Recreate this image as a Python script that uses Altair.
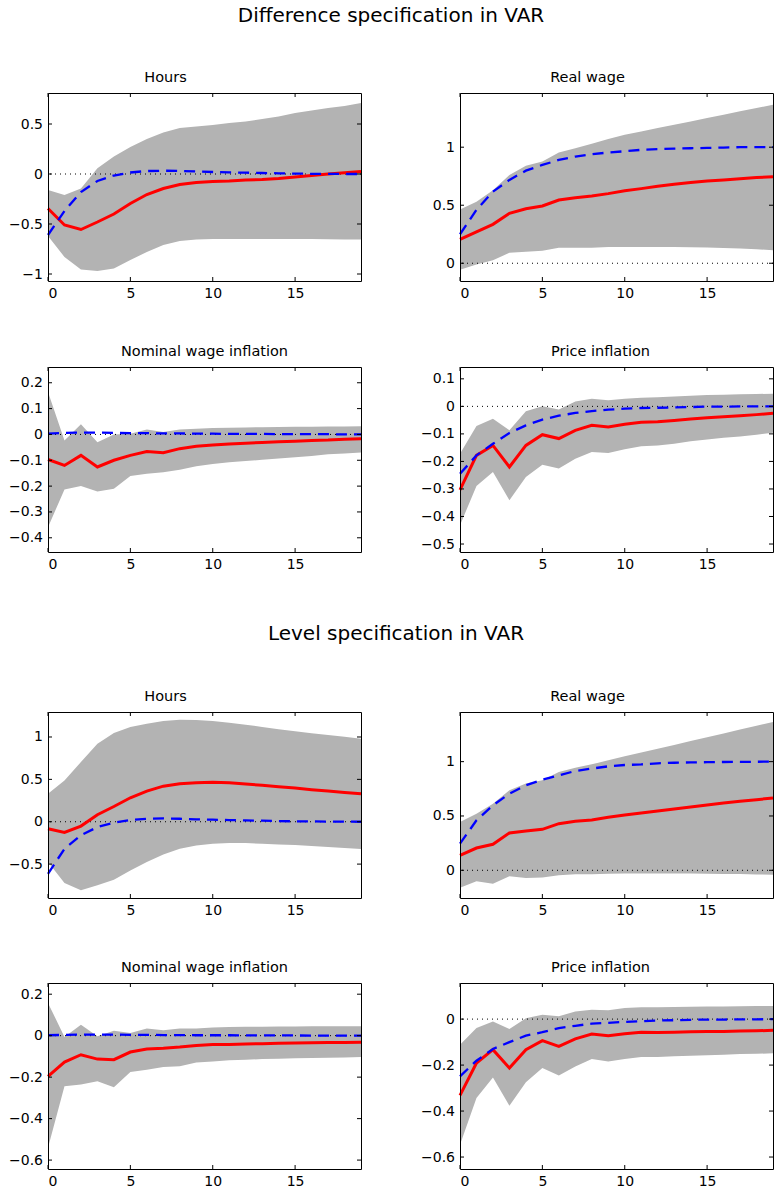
import altair as alt
import pandas as pd

HORIZON = list(range(20))
X_TICKS = [0, 5, 10, 15]

SECTION_TITLES = ["Difference specification in VAR", "Level specification in VAR"]
PANEL_TITLES = ["Hours", "Real wage", "Nominal wage inflation", "Price inflation"]

# ---------------- Difference specification ----------------
d_hours_red = [-0.345, -0.51, -0.555, -0.48, -0.40, -0.295, -0.205, -0.145, -0.105, -0.085,
               -0.075, -0.07, -0.06, -0.055, -0.045, -0.03, -0.015, 0.0, 0.013, 0.025]
d_hours_blue = [-0.61, -0.37, -0.18, -0.07, -0.015, 0.015, 0.03, 0.033, 0.03, 0.025,
                0.02, 0.016, 0.013, 0.01, 0.007, 0.004, 0.002, 0.001, 0.0, 0.0]
d_hours_hi = [-0.16, -0.21, -0.145, 0.057, 0.174, 0.27, 0.35, 0.415, 0.46, 0.475,
              0.49, 0.51, 0.525, 0.55, 0.575, 0.61, 0.635, 0.66, 0.68, 0.71]
d_hours_lo = [-0.62, -0.83, -0.955, -0.97, -0.945, -0.86, -0.78, -0.71, -0.67, -0.655,
              -0.65, -0.65, -0.65, -0.65, -0.65, -0.65, -0.65, -0.652, -0.654, -0.655]

d_rw_red = [0.205, 0.27, 0.335, 0.43, 0.47, 0.493, 0.545, 0.565, 0.58, 0.60,
            0.625, 0.643, 0.663, 0.68, 0.695, 0.709, 0.718, 0.729, 0.738, 0.746]
d_rw_blue = [0.25, 0.46, 0.617, 0.718, 0.798, 0.847, 0.89, 0.919, 0.94, 0.954,
             0.965, 0.977, 0.983, 0.988, 0.991, 0.994, 0.997, 1.0, 1.0, 1.0]
d_rw_hi = [0.464, 0.53, 0.63, 0.76, 0.84, 0.876, 0.954, 0.99, 1.03, 1.07,
           1.107, 1.136, 1.165, 1.193, 1.222, 1.251, 1.28, 1.309, 1.337, 1.366]
d_rw_lo = [-0.055, -0.01, 0.026, 0.09, 0.098, 0.107, 0.133, 0.133, 0.133, 0.14,
           0.14, 0.14, 0.14, 0.14, 0.138, 0.135, 0.132, 0.127, 0.121, 0.112]

d_nw_red = [-0.097, -0.12, -0.081, -0.126, -0.10, -0.081, -0.066, -0.071, -0.055, -0.046,
            -0.041, -0.037, -0.034, -0.031, -0.028, -0.026, -0.023, -0.022, -0.019, -0.017]
d_nw_blue = [0.003, 0.006, 0.007, 0.007, 0.006, 0.005, 0.005, 0.004, 0.004, 0.003,
             0.003, 0.002, 0.002, 0.002, 0.001, 0.001, 0.001, 0.001, 0.0, 0.0]
d_nw_hi = [0.164, -0.023, 0.039, -0.03, 0.0, 0.003, 0.019, 0.009, 0.019, 0.022,
           0.025, 0.026, 0.027, 0.028, 0.029, 0.03, 0.03, 0.031, 0.031, 0.032]
d_nw_lo = [-0.359, -0.213, -0.20, -0.221, -0.21, -0.161, -0.152, -0.146, -0.137, -0.123,
           -0.114, -0.108, -0.103, -0.098, -0.093, -0.088, -0.083, -0.077, -0.074, -0.07]

d_pi_red = [-0.303, -0.178, -0.142, -0.22, -0.142, -0.103, -0.117, -0.087, -0.069, -0.075,
            -0.065, -0.058, -0.056, -0.051, -0.046, -0.041, -0.038, -0.034, -0.03, -0.025]
d_pi_blue = [-0.245, -0.178, -0.136, -0.097, -0.069, -0.048, -0.034, -0.024, -0.017, -0.012,
             -0.0085, -0.006, -0.005, -0.004, -0.0025, -0.001, -0.001, 0.0, 0.0, 0.0]
d_pi_hi = [-0.172, -0.071, -0.045, -0.087, -0.018, 0.0, -0.011, 0.018, 0.028, 0.022,
           0.028, 0.031, 0.033, 0.036, 0.039, 0.041, 0.042, 0.044, 0.045, 0.046]
d_pi_lo = [-0.432, -0.289, -0.238, -0.341, -0.257, -0.212, -0.226, -0.19, -0.166, -0.169,
           -0.156, -0.145, -0.142, -0.136, -0.127, -0.12, -0.114, -0.109, -0.103, -0.096]

# ---------------- Level specification ----------------
l_hours_red = [-0.083, -0.126, -0.051, 0.083, 0.18, 0.283, 0.362, 0.42, 0.449, 0.46,
               0.465, 0.46, 0.445, 0.43, 0.413, 0.398, 0.378, 0.362, 0.346, 0.331]
l_hours_blue = [-0.614, -0.32, -0.16, -0.063, -0.012, 0.02, 0.035, 0.039, 0.035, 0.028,
                0.024, 0.02, 0.016, 0.012, 0.008, 0.005, 0.004, 0.002, 0.001, 0.0]
l_hours_hi = [0.33, 0.488, 0.705, 0.92, 1.047, 1.118, 1.157, 1.189, 1.205, 1.2,
              1.189, 1.169, 1.146, 1.118, 1.09, 1.067, 1.043, 1.024, 1.004, 0.98]
l_hours_lo = [-0.476, -0.724, -0.81, -0.75, -0.685, -0.575, -0.476, -0.386, -0.319, -0.28,
              -0.26, -0.252, -0.252, -0.26, -0.268, -0.276, -0.287, -0.299, -0.311, -0.323]

l_rw_red = [0.138, 0.205, 0.239, 0.344, 0.362, 0.377, 0.429, 0.451, 0.463, 0.488,
            0.509, 0.528, 0.546, 0.564, 0.583, 0.601, 0.62, 0.635, 0.65, 0.666]
l_rw_blue = [0.245, 0.46, 0.598, 0.705, 0.782, 0.834, 0.874, 0.914, 0.936, 0.957,
             0.969, 0.975, 0.985, 0.99, 0.993, 0.995, 0.997, 0.998, 0.999, 1.0]
l_rw_hi = [0.445, 0.52, 0.613, 0.736, 0.798, 0.828, 0.905, 0.945, 0.975, 1.012,
           1.049, 1.084, 1.119, 1.154, 1.19, 1.225, 1.26, 1.295, 1.33, 1.365]
l_rw_lo = [-0.16, -0.10, -0.123, -0.055, -0.07, -0.067, -0.046, -0.037, -0.037, -0.031,
           -0.03, -0.029, -0.029, -0.029, -0.03, -0.031, -0.033, -0.035, -0.038, -0.04]

l_nw_red = [-0.196, -0.127, -0.092, -0.113, -0.116, -0.079, -0.064, -0.061, -0.055, -0.047,
            -0.043, -0.042, -0.04, -0.039, -0.037, -0.035, -0.034, -0.033, -0.033, -0.032]
l_nw_blue = [0.002, 0.004, 0.005, 0.005, 0.005, 0.004, 0.004, 0.003, 0.003, 0.002,
             0.002, 0.002, 0.001, 0.001, 0.001, 0.001, 0.0, 0.0, 0.0, 0.0]
l_nw_hi = [0.158, -0.006, 0.053, -0.003, 0.024, 0.013, 0.034, 0.026, 0.035, 0.035,
           0.04, 0.042, 0.043, 0.043, 0.044, 0.044, 0.045, 0.045, 0.045, 0.045]
l_nw_lo = [-0.54, -0.244, -0.236, -0.22, -0.249, -0.175, -0.164, -0.151, -0.148, -0.129,
           -0.124, -0.119, -0.116, -0.113, -0.111, -0.109, -0.108, -0.106, -0.105, -0.103]

l_pi_red = [-0.332, -0.191, -0.133, -0.213, -0.133, -0.094, -0.119, -0.086, -0.065, -0.072,
            -0.064, -0.057, -0.058, -0.057, -0.055, -0.054, -0.054, -0.052, -0.051, -0.049]
l_pi_blue = [-0.249, -0.181, -0.13, -0.1, -0.072, -0.057, -0.039, -0.029, -0.02, -0.016,
             -0.012, -0.009, -0.006, -0.005, -0.003, -0.002, -0.002, -0.001, -0.001, 0.0]
l_pi_hi = [-0.112, -0.039, -0.01, -0.043, 0.004, 0.019, 0.012, 0.033, 0.041, 0.038,
           0.048, 0.051, 0.052, 0.053, 0.054, 0.055, 0.055, 0.056, 0.057, 0.057]
l_pi_lo = [-0.546, -0.343, -0.254, -0.377, -0.275, -0.213, -0.245, -0.206, -0.174, -0.184,
           -0.174, -0.165, -0.165, -0.162, -0.159, -0.157, -0.155, -0.152, -0.151, -0.149]

# y-axis tick labels and limits per panel
Y_TICKS = {
    "d_hours": [-1, -0.5, 0, 0.5], "d_rw": [0, 0.5, 1],
    "d_nw": [-0.4, -0.3, -0.2, -0.1, 0, 0.1, 0.2], "d_pi": [-0.5, -0.4, -0.3, -0.2, -0.1, 0, 0.1],
    "l_hours": [-0.5, 0, 0.5, 1], "l_rw": [0, 0.5, 1],
    "l_nw": [-0.6, -0.4, -0.2, 0, 0.2], "l_pi": [-0.6, -0.4, -0.2, 0],
}
Y_LIMITS = {
    "d_hours": [-1.07, 0.81], "d_rw": [-0.153, 1.467], "d_nw": [-0.455, 0.261], "d_pi": [-0.529, 0.143],
    "l_hours": [-0.90, 1.295], "l_rw": [-0.255, 1.457], "l_nw": [-0.643, 0.254], "l_pi": [-0.652, 0.157],
}

FONT = "DejaVu Sans"
GRAY = "#b3b3b3"
W = 313
ROW_H = [188, 185, 186, 186]
TITLE_DX = [-39, -29, 0, -16]
TICK_LEN = 4


def panel(key, title, title_dx, red, blue, lo, hi, h):
    df = pd.DataFrame({"k": HORIZON, "red": red, "blue": blue, "lo": lo, "hi": hi})
    xs = alt.Scale(domain=[0, 19], nice=False, zero=False)
    ys = alt.Scale(domain=Y_LIMITS[key], nice=False, zero=False)
    xt = pd.DataFrame({"t": X_TICKS})
    yt = pd.DataFrame({"v": Y_TICKS[key]})
    zero = pd.DataFrame({"z": [0]})

    common = dict(title=None, grid=False, ticks=False, tickSize=0, domain=True,
                  domainColor="black", domainWidth=1, zindex=1)
    x_bottom = alt.Axis(orient="bottom", values=X_TICKS, format="~g", labelPadding=5, **common)
    y_left = alt.Axis(orient="left", values=Y_TICKS[key], format="~g", labelPadding=5.5, **common)
    x_top = alt.Axis(orient="top", labels=False, minExtent=0, maxExtent=0, **common)
    y_right = alt.Axis(orient="right", labels=False, minExtent=0, maxExtent=0, **common)

    band = alt.Chart(df).mark_area(color=GRAY, opacity=1).encode(
        x=alt.X("k:Q", scale=xs, axis=x_bottom),
        y=alt.Y("lo:Q", scale=ys, axis=y_left),
        y2="hi:Q",
    )
    zline = alt.Chart(zero).mark_rule(color="black", strokeWidth=1, strokeDash=[1, 4]).encode(
        y=alt.Y("z:Q", scale=ys, axis=None)
    )
    red_line = alt.Chart(df).mark_line(color="#ff0000", strokeWidth=3).encode(
        x=alt.X("k:Q", scale=xs, axis=None), y=alt.Y("red:Q", scale=ys, axis=None)
    )
    blue_line = alt.Chart(df).mark_line(color="#0000ff", strokeWidth=2.3, strokeDash=[11, 7]).encode(
        x=alt.X("k:Q", scale=xs, axis=None), y=alt.Y("blue:Q", scale=ys, axis=None)
    )
    top_ticks = alt.Chart(xt).mark_rule(color="black", strokeWidth=1).encode(
        x=alt.X("t:Q", scale=xs, axis=x_top), y=alt.value(0), y2=alt.value(TICK_LEN)
    )
    bot_ticks = alt.Chart(xt).mark_rule(color="black", strokeWidth=1).encode(
        x=alt.X("t:Q", scale=xs, axis=None), y=alt.value(h), y2=alt.value(h - TICK_LEN)
    )
    left_ticks = alt.Chart(yt).mark_rule(color="black", strokeWidth=1).encode(
        y=alt.Y("v:Q", scale=ys, axis=None), x=alt.value(0), x2=alt.value(TICK_LEN)
    )
    right_ticks = alt.Chart(yt).mark_rule(color="black", strokeWidth=1).encode(
        y=alt.Y("v:Q", scale=ys, axis=y_right), x=alt.value(W - TICK_LEN), x2=alt.value(W)
    )
    return alt.layer(
        band, zline, red_line, blue_line, top_ticks, bot_ticks, left_ticks, right_ticks
    ).resolve_axis(x="independent", y="independent").properties(
        width=W, height=h,
        title=alt.TitleParams(
            text=title, font=FONT, fontSize=14.5, fontWeight="normal", color="black",
            anchor="middle", baseline="alphabetic", offset=11, dx=title_dx, dy=15,
        ),
    )


def spacer(h, text="", x=None, y=None):
    if x is None:
        x, y = 0, h / 2
    return alt.Chart(pd.DataFrame({"t": [text]})).mark_text(
        font=FONT, fontSize=20, color="black", align="center", baseline="alphabetic"
    ).encode(text="t:N", x=alt.value(x), y=alt.value(y)).properties(width=1, height=h)


diff = [
    ("d_hours", d_hours_red, d_hours_blue, d_hours_lo, d_hours_hi),
    ("d_rw", d_rw_red, d_rw_blue, d_rw_lo, d_rw_hi),
    ("d_nw", d_nw_red, d_nw_blue, d_nw_lo, d_nw_hi),
    ("d_pi", d_pi_red, d_pi_blue, d_pi_lo, d_pi_hi),
]
level = [
    ("l_hours", l_hours_red, l_hours_blue, l_hours_lo, l_hours_hi),
    ("l_rw", l_rw_red, l_rw_blue, l_rw_lo, l_rw_hi),
    ("l_nw", l_nw_red, l_nw_blue, l_nw_lo, l_nw_hi),
    ("l_pi", l_pi_red, l_pi_blue, l_pi_lo, l_pi_hi),
]


def make_panels(specs, rows):
    out = []
    for i, (key, r, b, lo, hi) in enumerate(specs):
        out.append(panel(key, PANEL_TITLES[i], TITLE_DX[i], r, b, lo, hi, rows[i // 2]))
    return out


dp = make_panels(diff, ROW_H[0:2])
lp = make_panels(level, ROW_H[2:4])

cells = [
    spacer(93, SECTION_TITLES[0], 343, 22), spacer(93),
    dp[0], dp[1],
    spacer(86), spacer(86),
    dp[2], dp[3],
    spacer(160, SECTION_TITLES[1], 348, 88), spacer(160),
    lp[0], lp[1],
    spacer(85), spacer(85),
    lp[2], lp[3],
]

chart = alt.concat(
    *cells, columns=2, align="each", bounds="flush",
    spacing={"row": 0, "column": 99},
).properties(
    padding={"left": 8, "top": 0, "right": 0, "bottom": 0},
    background="white",
).configure_view(strokeWidth=0).configure_axis(
    labelFont=FONT, labelFontSize=14, labelColor="black"
)

chart.save("out.html", embed_options={"renderer": "svg", "actions": False})
